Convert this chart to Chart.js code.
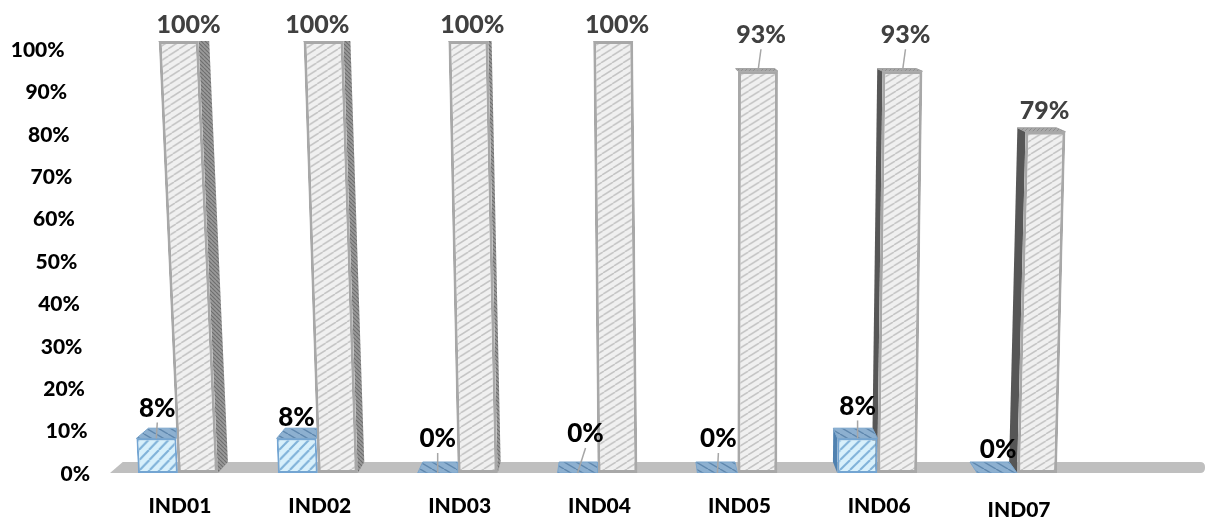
<!DOCTYPE html>
<html>
<head>
<meta charset="utf-8">
<style>
  html, body { margin: 0; padding: 0; background: #fff; }
  canvas { display: block; }
</style>
<script src="https://cdn.jsdelivr.net/npm/chart.js@4"></script>
</head>
<body>
<canvas id="chart" width="1216" height="518"></canvas>
<script>
const categories = ['IND01', 'IND02', 'IND03', 'IND04', 'IND05', 'IND06', 'IND07'];
const seriesBlue = [8, 8, 0, 0, 0, 8, 0];
const seriesGrey = [100, 100, 100, 100, 93, 93, 79];
const tickValues = [0, 10, 20, 30, 40, 50, 60, 70, 80, 90, 100];

// label nudges in px from the top of each bar
const blueNudge = [[1, -30], [0, -21], [0, -34], [8, -39], [1, -34], [0, -32], [1, -23]];
const greyNudge = [[10, -16], [-6, -16], [4, -16], [4, -16], [3, -36], [3, -36], [-1, -21]];
const catNudge = [2, 2, 2, 2, 2, 2, 2];
const catDrop = [0, 0, 0, 0, 0, 0, 4];

const FONT = '"Lato", "Liberation Sans", sans-serif';

function hatch(w, h, bg, fg, lw, flip) {
  const c = document.createElement('canvas');
  c.width = w; c.height = h;
  const g = c.getContext('2d');
  g.fillStyle = bg;
  g.fillRect(0, 0, w, h);
  g.strokeStyle = fg;
  g.lineWidth = lw;
  for (let i = -1; i <= 1; i++) {
    g.beginPath();
    if (flip) {
      g.moveTo(i * w, 0);
      g.lineTo(i * w + w, h);
    } else {
      g.moveTo(i * w, h);
      g.lineTo(i * w + w, 0);
    }
    g.stroke();
  }
  return g.createPattern(c, 'repeat');
}

const ctx = document.getElementById('chart').getContext('2d');
const blueFront = hatch(10, 10, '#d8f0fb', '#7fb1d8', 2, false);
const greyFront = hatch(11, 7, '#f0f0f0', '#c4c4c4', 1.5, false);
const blueTop = hatch(12, 7, '#8db0d0', '#5f87ad', 1.4, true);
const greyTop = hatch(4, 4, '#a8a8a8', '#8c8c8c', 1, false);
const greySide = hatch(4, 4, '#9a9a9a', '#6f6f6f', 1.2, true);

// the picture comes from a 3D chart: columns lean toward x=738, depth goes toward x=620
function leanOf(cx) { return -(738 - cx) * 0.0357 / 432; }
function backX(x) {
  const d = x < 620 ? 0.025 : 0.02;
  return x + d * (620 - x);
}
function backY(y) { return y - (2 + (y - 41) * 0.0208); }

function quad(g, pts, fill, stroke) {
  g.beginPath();
  pts.forEach((p, i) => i ? g.lineTo(p[0], p[1]) : g.moveTo(p[0], p[1]));
  g.closePath();
  g.fillStyle = fill;
  g.fill();
  if (stroke) {
    g.strokeStyle = stroke;
    g.lineWidth = 1;
    g.stroke();
  }
}

function drawBar3d(el, g, origDraw, blue) {
  const base = el.base, top = el.y;
  const l = el.x - el.width / 2, r = el.x + el.width / 2;
  const s = leanOf(el.x);
  const sx = (x, y) => x + s * (base - y);
  const fl = [sx(l, top), top], fr = [sx(r, top), top];
  const bl = [l, base], br = [r, base];
  const back = p => [backX(p[0]), backY(p[1])];
  const hidesRight = blue && backX(r) > r;   // the grey column stands in front of this part

  // side face
  if (!blue && backX(r) > r + 1) {
    quad(g, [br, fr, back(fr), back(br)], greySide);
  } else if (backX(l) < l - 3) {
    quad(g, [bl, fl, back(fl), back(bl)], blue ? '#4f81b0' : '#565656');
  }
  // top face
  const backRight = hidesRight ? [fr[0], backY(top)] : back(fr);
  quad(g, [fl, fr, backRight, back(fl)], blue ? blueTop : greyTop, blue ? '#7aa5cc' : '#a0a0a0');

  // front face is the library's own bar, sheared
  g.save();
  g.transform(1, 0, -s, 1, s * base, 0);
  origDraw(g);
  g.restore();
}

const bar3d = {
  id: 'bar3d',
  beforeDatasetsDraw(chart) {
    const g = chart.ctx, x = chart.scales.x, y = chart.scales.y;
    const y0 = y.getPixelForValue(0);
    const right = chart.width - 11;
    // floor
    g.fillStyle = '#bfbfbf';
    g.beginPath();
    g.moveTo(x.left + 2, y0);
    g.lineTo(backX(x.left + 2), backY(y0));
    g.lineTo(right - 5, backY(y0));
    g.quadraticCurveTo(right, backY(y0), right, backY(y0) + 5);
    g.lineTo(right, y0 - 5);
    g.quadraticCurveTo(right, y0, right - 5, y0);
    g.closePath();
    g.fill();
    chart.getSortedVisibleDatasetMetas().forEach(meta => {
      meta.data.forEach(el => {
        if (el.__wrapped) return;
        const orig = el.draw.bind(el);
        el.draw = g2 => drawBar3d(el, g2, orig, meta.index === 0);
        el.__wrapped = true;
      });
    });
  },
  afterDatasetsDraw(chart) {
    const g = chart.ctx, x = chart.scales.x, y = chart.scales.y;
    g.save();
    g.textAlign = 'center';
    g.textBaseline = 'middle';

    // data labels with leader lines
    [[0, seriesBlue, blueNudge, '#000000', 26], [1, seriesGrey, greyNudge, '#404040', 25]].forEach(([ds, vals, nudge, colour, size]) => {
      const meta = chart.getDatasetMeta(ds);
      vals.forEach((v, i) => {
        const el = meta.data[i];
        const tx = el.x + leanOf(el.x) * (el.base - el.y);
        const lx = tx + nudge[i][0], ly = el.y + nudge[i][1];
        if (nudge[i][1] < -25) {
          g.strokeStyle = '#a6a6a6';
          g.lineWidth = 1.5;
          g.beginPath();
          g.moveTo(lx, ly + 14);
          g.lineTo(tx, el.y);
          g.stroke();
        }
        g.font = '900 ' + size + 'px ' + FONT;
        g.fillStyle = colour;
        g.fillText(v + '%', lx, ly);
      });
    });

    // category labels
    g.font = '900 21px ' + FONT;
    g.fillStyle = '#000000';
    categories.forEach((c, i) => {
      g.fillText(c, x.getPixelForValue(i) + catNudge[i], y.bottom + 33 + catDrop[i]);
    });

    // value axis labels, they follow the slant of the 3D wall
    g.textAlign = 'right';
    tickValues.forEach(v => {
      const py = y.getPixelForValue(v) + v / 100 * 8 + 1;
      g.fillText(v + '%', 90 - (y.bottom - py) * 0.06, py);
    });
    g.restore();
  }
};

new Chart(ctx, {
  type: 'bar',
  data: {
    labels: categories,
    datasets: [
      { label: 'Blue', data: seriesBlue, backgroundColor: blueFront, borderColor: '#74a5d2', borderWidth: 2, borderSkipped: false },
      { label: 'Grey', data: seriesGrey, backgroundColor: greyFront, borderColor: '#a8a8a8', borderWidth: 3, borderSkipped: false }
    ]
  },
  options: {
    responsive: false,
    animation: false,
    layout: { padding: { left: 108, right: 129, top: 41, bottom: 45 } },
    datasets: { bar: { categoryPercentage: 0.571, barPercentage: 1 } },
    plugins: { legend: { display: false }, tooltip: { enabled: false } },
    scales: {
      x: { display: false },
      y: { display: false, min: 0, max: 100 }
    }
  },
  plugins: [bar3d]
});
</script>
</body>
</html>
